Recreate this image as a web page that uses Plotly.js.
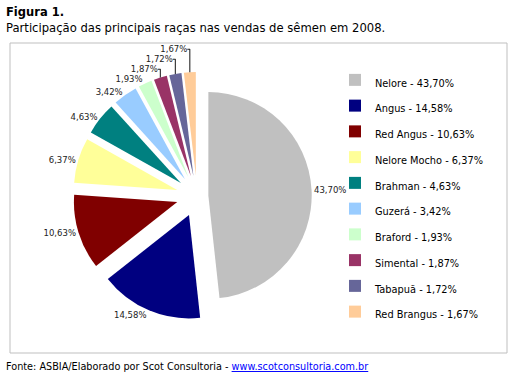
<!DOCTYPE html>
<html>
<head>
<meta charset="utf-8">
<script src="https://cdn.plot.ly/plotly-3.0.1.min.js"></script>
<style>html,body{margin:0;padding:0;background:#fff;}#chart{width:516px;height:377px;}</style>
</head>
<body>
<div id="chart"></div>
<script>
const breeds = ['Nelore', 'Angus', 'Red Angus', 'Nelore Mocho', 'Brahman', 'Guzerá', 'Braford', 'Simental', 'Tabapuã', 'Red Brangus'];
const shares = [43.70, 14.58, 10.63, 6.37, 4.63, 3.42, 1.93, 1.87, 1.72, 1.67];
const colors = ['#c0c0c0', '#000080', '#800000', '#ffff99', '#008080', '#99ccff', '#ccffcc', '#993366', '#666699', '#ffcc99'];

const fmt = v => v.toFixed(2).replace('.', ',') + '%';
const legendLabels = breeds.map((b, i) => '<span style="font-size:9.8px">' + b + ' - ' + fmt(shares[i]) + '</span>');
const pulls = breeds.map((b, i) => i === 0 ? 0.11 : 0.2);

const FONT = 'DejaVu Sans, Verdana, sans-serif';
const W = 516, H = 377;
const cx = 197, cy = 196, half = 124;

const trace = {
  type: 'pie',
  labels: legendLabels,
  values: shares,
  sort: false,
  direction: 'clockwise',
  rotation: 0,
  pull: pulls,
  marker: {colors: colors, line: {width: 0}},
  textposition: 'outside',
  texttemplate: '%{value:.2f}%',
  textfont: {family: FONT, size: 8.5, color: '#222'},
  domain: {x: [(cx - half) / W, (cx + half) / W], y: [(H - cy - half) / H, (H - cy + half) / H]},
  hoverinfo: 'skip',
  showlegend: true
};

const layout = {
  width: W,
  height: H,
  margin: {l: 0, r: 0, t: 0, b: 0},
  paper_bgcolor: '#fff',
  separators: ',.',
  font: {family: FONT, color: '#000'},
  legend: {
    x: 335 / W, xanchor: 'left',
    y: (H - 62) / H, yanchor: 'top',
    font: {family: FONT, size: 17.5, color: '#000'},
    bgcolor: 'rgba(0,0,0,0)'
  },
  shapes: [{
    type: 'rect', xref: 'paper', yref: 'paper',
    x0: 10 / W, x1: 507 / W, y0: (H - 353) / H, y1: (H - 43) / H,
    line: {color: '#bfbfbf', width: 1}, fillcolor: 'rgba(0,0,0,0)', layer: 'below'
  }],
  annotations: [{
    xref: 'paper', yref: 'paper',
    x: 4 / W, xanchor: 'left',
    y: (H - 12) / H, yanchor: 'middle',
    showarrow: false,
    text: '<b>Figura 1.</b>',
    font: {family: FONT, size: 11.5, color: '#000'}
  }, {
    xref: 'paper', yref: 'paper',
    x: 4 / W, xanchor: 'left',
    y: (H - 28) / H, yanchor: 'middle',
    showarrow: false,
    text: 'Participação das principais raças nas vendas de sêmen em 2008.',
    font: {family: FONT, size: 11.6, color: '#000'}
  }, {
    xref: 'paper', yref: 'paper',
    x: 4 / W, xanchor: 'left',
    y: (H - 366) / H, yanchor: 'middle',
    showarrow: false,
    text: 'Fonte: ASBIA/Elaborado por Scot Consultoria - <a href="http://www.scotconsultoria.com.br" style="color:#0000ff;text-decoration:underline">www.scotconsultoria.com.br</a>',
    font: {family: FONT, size: 9.7, color: '#000'}
  }]
};

Plotly.newPlot('chart', [trace], layout, {displayModeBar: false, staticPlot: true});
</script>
</body>
</html>
